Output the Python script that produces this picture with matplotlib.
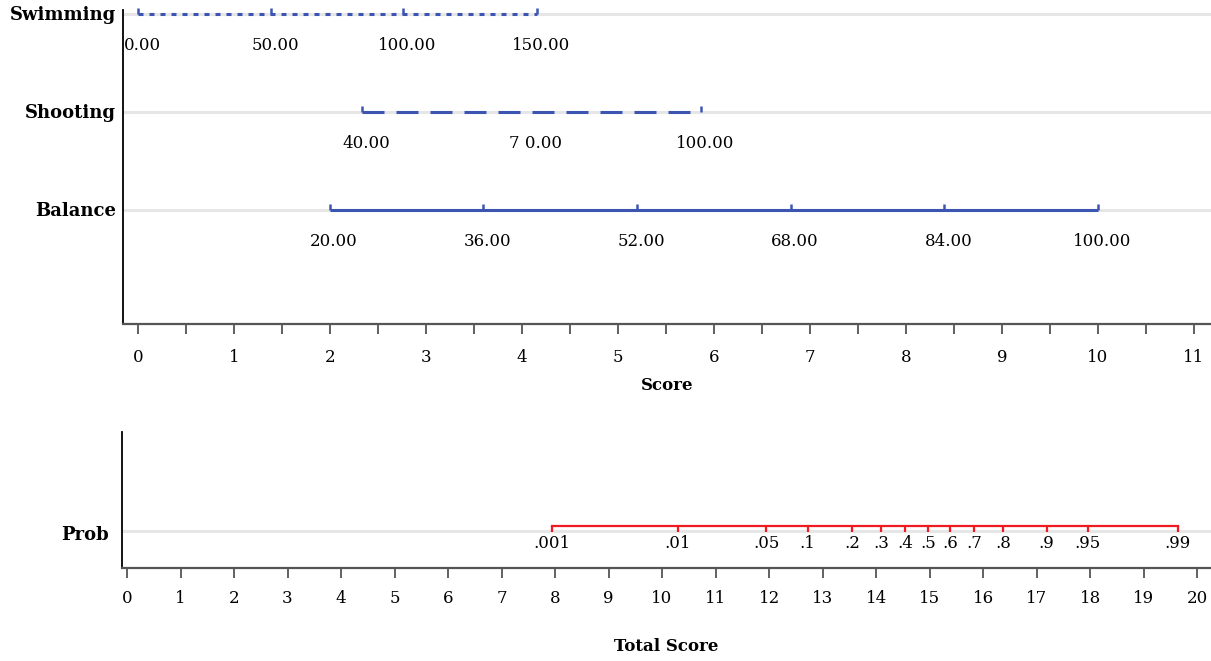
import matplotlib
matplotlib.use("Agg")
import matplotlib.pyplot as plt
import matplotlib.transforms as mtransforms

plt.rcParams['font.family'] = ['DejaVu Serif']
plt.rcParams['lines.scale_dashes'] = False

# ---------------- data ----------------
variables = ["Swimming", "Shooting", "Balance"]
swim_values = [0.0, 50.0, 100.0, 150.0]
swim_scores = [0.0, 1.385, 2.76, 4.155]
swim_labels = ["0.00", "50.00", "100.00", "150.00"]

shoot_values = [40.0, 70.0, 100.0]
shoot_scores = [2.333, 4.10, 5.865]
shoot_labels = ["40.00", "7 0.00", "100.00"]

bal_values = [20.0, 36.0, 52.0, 68.0, 84.0, 100.0]
bal_scores = [2.0, 3.6, 5.2, 6.8, 8.4, 10.0]
bal_labels = ["20.00", "36.00", "52.00", "68.00", "84.00", "100.00"]

score_ticks = [i * 0.5 for i in range(23)]
score_ticklabels = [str(int(t)) if t == int(t) else "" for t in score_ticks]

prob_labels = [".001", ".01", ".05", ".1", ".2", ".3", ".4", ".5", ".6", ".7", ".8", ".9", ".95", ".99"]
prob_total = [7.95, 10.29, 11.95, 12.72, 13.55, 14.09, 14.54, 14.97, 15.38, 15.83, 16.37, 17.19, 17.96, 19.64]

total_ticks = list(range(0, 21))

# ---------------- style ----------------
BLUE = "#3d55b2"
RED = "#f01a22"
GRID = "#e6e6e6"
AXC = "#555555"
PX = 0.72  # points per pixel at dpi 100

W, H = 1211, 661
fig = plt.figure(figsize=(W / 100, H / 100), dpi=100)

# top panel: x 123..1211, y 10..324 (pixels from top)
ax1 = fig.add_axes([123 / W, (H - 324) / H, (W - 123) / W, (324 - 10) / H])
# bottom panel: x 122..1211, y 432..568
ax2 = fig.add_axes([122 / W, (H - 568) / H, (W - 122) / W, (568 - 432) / H])

for ax in (ax1, ax2):
    ax.spines['top'].set_visible(False)
    ax.spines['right'].set_visible(False)
    ax.spines['left'].set_color('black')
    ax.spines['left'].set_linewidth(1.3)
    ax.spines['bottom'].set_color(AXC)
    ax.spines['bottom'].set_linewidth(1.6)
    ax.set_yticks([])
    ax.tick_params(axis='x', direction='out', length=7.5, width=1.3, color=AXC,
                   labelsize=12, pad=8)

ax1.tick_params(axis='x', pad=10.5)

# ---- top axes ----
rows = [3, 2, 1]
ax1.set_xlim(-0.156, 11.18)
ax1.set_ylim(-0.163, 3.04)
ax1.set_xticks(score_ticks)
ax1.set_xticklabels(score_ticklabels)
ax1.set_xlabel("Score", fontsize=12, fontweight='bold', labelpad=8)

tick_h = 6 / 98.0
series = [
    (swim_scores, swim_labels, (0, (5 * PX, 6 * PX)), [0, 1, 2, 3]),
    (shoot_scores, shoot_labels, (0, (22 * PX, 12 * PX)), [0, 2]),
    (bal_scores, bal_labels, '-', [0, 1, 2, 3, 4, 5]),
]
blend1 = mtransforms.blended_transform_factory(ax1.transAxes, ax1.transData)
for name, r, (scores, labels, ls, tick_idx) in zip(variables, rows, series):
    ax1.axhline(r, color=GRID, lw=2.2, zorder=1)
    ax1.plot([scores[0], scores[-1]], [r, r], color=BLUE, lw=2.2, ls=ls,
             zorder=3, solid_capstyle='butt', dash_capstyle='butt')
    ax1.vlines([scores[i] for i in tick_idx], r, r + tick_h, color=BLUE, lw=1.8,
               zorder=3, clip_on=False)
    for s, lab in zip(scores, labels):
        ax1.annotate(lab, xy=(s, r), xytext=(3, -32 * PX), textcoords='offset points',
                     ha='center', va='center', fontsize=12)
    ax1.text(-7 / 1088, r - 0.012, name, transform=blend1, ha='right', va='center',
             fontsize=13, fontweight='bold')

# ---- bottom axes ----
ax2.set_xlim(-0.094, 20.26)
ax2.set_ylim(-42, 94)
ax2.set_xticks(total_ticks)
ax2.set_xticklabels([str(t) for t in total_ticks])
ax2.set_xlabel("Total Score", fontsize=12, fontweight='bold', labelpad=23)

ax2.axhline(-5, color=GRID, lw=2.2, zorder=1)
ax2.plot([prob_total[0], prob_total[-1]], [0, 0], color=RED, lw=1.6, zorder=3)
ax2.vlines(prob_total, -6, 0, color=RED, lw=1.6, zorder=3)
for s, lab in zip(prob_total, prob_labels):
    ax2.annotate(lab, xy=(s, 0), xytext=(0, -17 * PX), textcoords='offset points',
                 ha='center', va='center', fontsize=12)
blend2 = mtransforms.blended_transform_factory(ax2.transAxes, ax2.transData)
ax2.text(-13 / 1089, -9, "Prob", transform=blend2, ha='right', va='center',
         fontsize=13, fontweight='bold')

fig.savefig("out.png", dpi=100)
